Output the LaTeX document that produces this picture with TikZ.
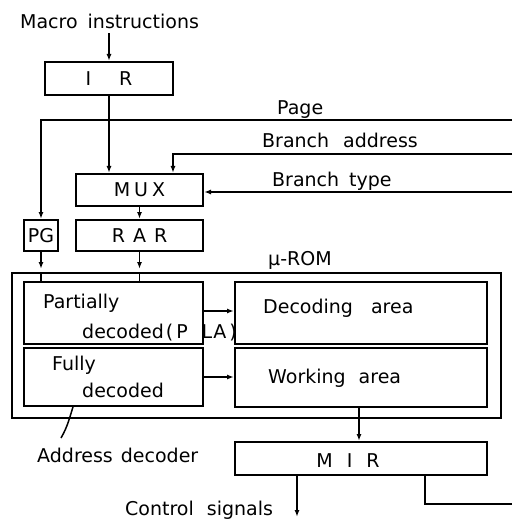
\documentclass[tikz,border=0pt]{standalone}
\usepackage{fontspec}
\setmainfont{DejaVu Sans}
\usetikzlibrary{arrows.meta}
\begin{document}
\begin{tikzpicture}[x=1pt,y=-1pt,
  box/.style={draw,line width=2pt,inner sep=0pt,font=\fontsize{19}{21}\selectfont},
  lab/.style={inner sep=0pt,anchor=base west,font=\fontsize{19}{21}\selectfont},
  wire/.style={line width=1.5pt},
  arr/.style={wire,-{Latex[length=7pt,width=5pt]}}
]
\useasboundingbox (0,0) rectangle (512,521);

% registers and multiplexer
\node[box,minimum width=128pt,minimum height=33pt] (ir)  at (109,78.5)  {I\hspace{28pt}R};
\node[box,minimum width=127pt,minimum height=32pt] (mux) at (139.5,190) {M\hspace{4pt}U\hspace{4pt}X};
\node[box,minimum width=127pt,minimum height=31pt] (rar) at (139.5,235.5) {R\hspace{8pt}A\hspace{8pt}R};
\node[box,minimum width=34pt,minimum height=31pt]  (pg)  at (41,235.5)  {PG};

% micro-ROM and its four areas
\node[box,minimum width=489pt,minimum height=145pt] (rom) at (256.5,345.5) {};
\node[box,minimum width=179pt,minimum height=62pt] (part) at (113.5,313) {};
\node[box,minimum width=252pt,minimum height=62pt] (dec)  at (361,313)   {};
\node[box,minimum width=179pt,minimum height=58pt] (full) at (113.5,377) {};
\node[box,minimum width=252pt,minimum height=59pt] (work) at (361,377.5) {};

% micro-instruction register
\node[box,minimum width=252pt,minimum height=33pt] (mir) at (361,458.5) {};
\node[lab,anchor=base] (mirt) at (348,467) {M\hspace{14pt}I\hspace{14pt}R};

% labels
\node[lab] (mi)   at (20,29)   {Macro\hspace{10pt}instructions};
\node[lab] (page) at (277,115) {Page};
\node[lab] (bat)  at (262,148) {Branch\hspace{14pt}address};
\node[lab] (btt)  at (272,187) {Branch\hspace{10pt}type};
\node[lab] (urom) at (268,265) {μ-ROM};
\node[lab] (pa1)  at (43,308)  {Partially};
\node[lab] (pa2)  at (82,338)  {decoded\hspace{2pt}(\hspace{3pt}P\hspace{14pt}L\hspace{1pt}A\hspace{3pt})};
\node[lab] (dect) at (263,313) {Decoding\hspace{18pt}area};
\node[lab] (fu1)  at (52,370)  {Fully};
\node[lab] (fu2)  at (82,397)  {decoded};
\node[lab] (wkt)  at (268,383) {Working\hspace{13pt}area};
\node[lab] (adt)  at (37,462)  {Address\hspace{8pt}decoder};
\node[lab] (cst)  at (125,515) {Control\hspace{13pt}signals};

% free ends at the right margin and below
\coordinate (pageR) at (512,120);
\coordinate (baR)   at (512,154);
\coordinate (baT)   at (173,154);
\coordinate (btR)   at (512,192);
\coordinate (csE)   at (297,517);
\coordinate (fbA)   at (425,504);
\coordinate (fbR)   at (512,504);
\coordinate (adS)   at (61,438);
\coordinate (adE)   at (73,407);

% connectors
\draw[arr] (ir.north |- mi.south) ++(0,4) -- (ir.north);
\draw[arr] (ir.south) -- (ir.south |- mux.north);
\draw[arr] (pageR) -- (pageR -| pg.north) -- (pg.north);
\draw[arr] (baR) -- (baT) -- (baT |- mux.north);
\draw[arr] (btR) -- (btR -| mux.east);
\draw[arr] (mux.south) -- (rar.north);
\draw[arr] (pg.south) -- ([yshift=3pt]pg.south |- rom.north);
\draw[wire] (pg.south |- rom.north) -- (pg.south |- part.north);
\draw[arr] (rar.south) -- ([yshift=3pt]rar.south |- rom.north);
\draw[wire] (rar.south |- rom.north) -- (rar.south |- part.north);
\draw[arr] ([yshift=2pt]part.east) -- ([yshift=2pt]dec.west |- part.east);
\draw[arr] (full.east) -- (work.west |- full.east);
\draw[arr] ([xshift=-2pt]work.south) -- ([xshift=-2pt]work.south |- mir.north);
\draw[arr] (mir.south -| csE) -- (csE);
\draw[wire] (mir.south -| fbA) -- (fbA) -- (fbR);
\draw[wire] (adS) .. controls (68,426) and (70,416) .. (adE);
\end{tikzpicture}
\end{document}
